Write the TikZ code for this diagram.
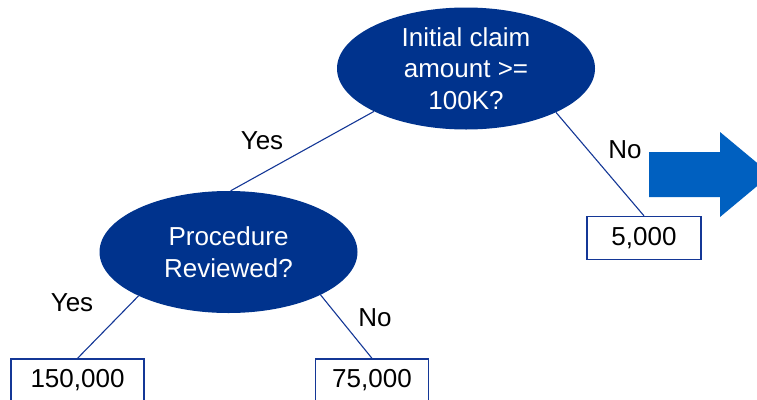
\documentclass[tikz,border=0pt]{standalone}
\usepackage{fontspec}
\setmainfont{Liberation Sans}
\usetikzlibrary{shapes.geometric}
\definecolor{decisionblue}{RGB}{0,51,141}
\definecolor{linkblue}{RGB}{20,55,150}
\definecolor{arrowblue}{RGB}{0,96,192}
\begin{document}
\begin{tikzpicture}[x=1pt,y=-1pt,
  every node/.style={font=\fontsize{26}{31.5}\selectfont},
  decision/.style={ellipse, fill=decisionblue, text=white, align=center,
    minimum width=258pt, minimum height=122pt, inner sep=0pt},
  outcome/.style={draw=linkblue, line width=1.3pt, fill=white,
    minimum height=43pt, inner sep=0pt},
  branch/.style={draw=linkblue, line width=1.1pt},
  answer/.style={inner sep=0pt, text=black}]
  \useasboundingbox (0,0) rectangle (757,399);
  \clip (0,0) rectangle (757,399);

  % decision nodes
  \node[decision] (claim) at (466,68.5) {Initial claim\\amount >=\\100K?};
  \node[decision] (review) at (228.5,252) {Procedure\\Reviewed?};

  % outcome boxes
  \node[outcome, minimum width=114pt] (small) at (644,238) {5,000};
  \node[outcome, minimum width=133pt] (full) at (77.5,380.5) {150,000};
  \node[outcome, minimum width=113pt] (half) at (372,380.5) {75,000};

  % branches
  \draw[branch] (claim.205.5) -- (review.88);
  \draw[branch] (claim.-26) -- (small.north);
  \draw[branch] (review.206) -- (full.north);
  \draw[branch] (review.-25) -- (half.north);

  % branch labels
  \node[answer] (yesclaim) at (262,141) {Yes};
  \node[answer] (noclaim) at (625,150) {No};
  \node[answer] (yesreview) at (72,303) {Yes};
  \node[answer] (noreview) at (375,318) {No};

  % block arrow on the right
  \fill[arrowblue] (649,152) -- (720,152) -- (720,132) -- (771,174.5)
    -- (720,217) -- (720,197) -- (649,197) -- cycle;
\end{tikzpicture}
\end{document}
